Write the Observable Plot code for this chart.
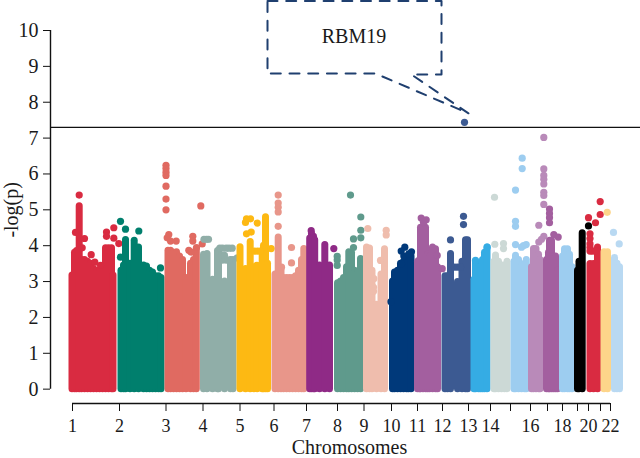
<!DOCTYPE html>
<html>
<head>
<meta charset="utf-8">
<style>
html,body{margin:0;padding:0;background:#fff}
svg{display:block;background:#fff}
</style>
<script src="https://cdn.jsdelivr.net/npm/d3@7"></script>
<script src="https://cdn.jsdelivr.net/npm/@observablehq/plot@0.6"></script>
</head>
<body>
<div id="chart"></div>
<script>
// x is genome position in bins of about 5.2 Mb; y is -log(p).
const chromosomes = ["1","2","3","4","5","6","7","8","9","10","11","12","13","14","15","16","17","18","19","20","21","22"];
const colours = ["#d92b41","#007f6d","#e06a61","#90aea8","#fdb913","#e8968a","#8f2a86","#5f9a8c","#efbdad","#00397a","#a35f9f","#3c5a92","#35ace4","#ccd9d6","#9dcdf0","#b98ab9","#a35f9f","#9dcdf0","#000000","#d92b41","#fdd58a","#b9d9f2"];

// dense columns of SNPs: [position, highest value in the column]
const columns01 = [[3.5,3.17],[6,3.8],[8,3.85],[10.7,5.1],[13,3.6],[16,3.6],[19,3.55],[22,3.5],[25,3.35],[28,3.3],[31,3.3],[34,3.35],[37,3.93],[40,3.93],[43,3.93],[44.5,3.17]];
const columns02 = [[52.5,3.3],[55,3.45],[57,4.16],[61.5,3.5],[65.7,4.14],[70,3.95],[75,3.45],[78,3.42],[81,3.3],[84,3.25],[87,3.15],[90,3.15],[92.5,3.1]];
const columns03 = [[99.5,3.86],[102,3.86],[105,3.8],[108,3.82],[111,3.7],[114,3.6],[117.5,3.1],[122,3.5],[125,3.6],[127.8,3.9]];
const columns04 = [[135,3.75],[138.5,3.77],[144,3.05],[149,3.85],[150,3.85],[156,3.0],[162,3.6],[164.5,3.6]];
const columns05 = [[171.5,3.96],[177,3.35],[181.7,4.1],[185.5,3.4],[188.5,3.44],[193.7,3.85],[195,4.0],[197,4.79],[199,3.5]];
const columns06 = [[206.5,3.2],[209.7,4.23],[212.5,3.3],[215,3.1],[218,3.1],[221,3.1],[224,3.1],[227,3.15],[230,3.3],[233,3.6],[235.3,3.91]];
const columns07 = [[241.2,4.2],[243,4.33],[245,4.25],[246.2,4.15],[251,3.45],[256.3,4.02],[261,3.45]];
const columns08 = [[269,2.95],[272,3.0],[275,3.1],[278,3.4],[280.3,3.82],[283,3.8],[286,3.3],[289,3.25],[292,3.63]];
const columns09 = [[298,3.95],[301,3.92],[303.5,3.3],[308,2.35],[312.5,3.2],[316,3.9]];
const columns10 = [[324,3.0],[326,3.25],[329,3.3],[332,3.5],[335,3.55],[338,3.6],[340,3.7],[342.5,3.7]];
const columns11 = [[349,3.55],[351,3.6],[352,4.5],[354.5,4.5],[357,4.5],[359,3.75],[361,3.7],[364,3.95],[367,3.9],[369,3.4]];
const columns12 = [[376.5,3.15],[379,3.15],[382,3.77],[389,2.99],[393.5,3.55],[397,4.15],[399,4.15]];
const columns13 = [[405.5,3.05],[407,3.55],[410,3.4],[412,3.3],[414,3.6],[416,3.8],[418.5,3.95]];
const columns14 = [[425.5,3.55],[427,3.73],[430,3.55],[433,3.45],[436,3.45],[438.5,3.55]];
const columns15 = [[445.5,3.55],[447,3.72],[450,3.6],[453,3.45],[456,3.5],[457.8,3.6]];
const columns16 = [[463,3.4],[465,3.91],[467.5,3.91],[470,3.75],[471.5,3.6]];
const columns17 = [[478,3.6],[480,3.8],[481,4.14],[483,4.14],[485,3.7],[487,3.7],[489,3.3]];
const columns18 = [[494,3.7],[496,3.9],[499,3.9],[501,3.75],[503.5,3.4]];
const columns19 = [[509,3.3],[510.5,3.55],[513.7,4.35]];
const columns20 = [[521.5,3.49],[525,3.49],[529,3.95]];
const columns21 = [[535.5,3.82],[539,3.82]];
const columns22 = [[546,3.66],[548.5,3.5],[551,3.4]];

// separate SNPs above the columns: [position, value]
const dots01 = [[10.7,5.41],[7,4.37],[16,4.2],[13.7,3.94],[22.7,3.75],[26.3,3.54],[32,3.45],[38,4.38],[38,4.26],[45.3,4.5],[45.3,4.21],[50.3,4.06]];
const dots02 = [[52,4.68],[57,4.46],[70.3,4.41],[52,3.68],[92,3.38]];
const dots03 = [[97.5,6.24],[97.5,6.15],[97.5,6.05],[97.5,5.96],[97.5,5.66],[97.5,5.3],[97.5,5.0],[132.3,5.11],[100.3,4.31],[98.7,4.22],[102,4.13],[107.7,4.13],[124.3,4.26],[124.3,4.13],[120.3,3.87],[122.7,3.82],[133.7,4.05],[128,3.95]];
const dots04 = [[135.5,4.18],[138,4.18],[140,4.18],[151.3,3.93],[154,3.93],[157.7,3.93],[160.5,3.93],[163.7,3.93],[154,3.6],[157.7,3.6],[160.5,3.6],[153,3.73],[156,3.73],[168.7,3.66]];
const dots05 = [[178,4.75],[182,4.75],[177,4.65],[188.7,4.63],[178,4.33],[182.7,4.38],[186,3.85],[189,3.85],[192,3.85],[202.7,3.92]];
const dots06 = [[209.7,5.41],[209.7,5.19],[209.7,5.07],[209.7,4.94],[209.7,4.54],[213,3.4],[223,3.95],[223,3.52]];
const dots07 = [[242.7,4.42],[265.3,3.92]];
const dots08 = [[268.7,3.7],[268.7,3.6],[268.7,3.45],[282,5.41],[292.3,4.8],[292.3,4.43],[292.3,4.22],[285,4.19],[285,3.95]];
const dots09 = [[299.3,4.48],[317.7,4.43],[317.7,4.3],[305.3,3.08],[305,2.84],[305,2.73],[312,3.59]];
const dots10 = [[336.3,3.96],[332.7,3.85],[343,3.83],[335.3,3.71],[340.3,3.77],[333,3.5],[322.5,2.44]];
const dots11 = [[352.7,4.77],[357.7,4.72],[355,4.65],[368.7,3.73],[373.7,3.36]];
const dots12 = [[396,7.44],[395,4.82],[395,4.59],[382,4.16],[386,3.4],[389,3.4],[392,3.4]];
const dots13 = [[407,3.59],[418.7,3.96]];
const dots14 = [[426,5.35],[426.3,4.04],[435,4.06],[435,3.92]];
const dots15 = [[453.7,6.44],[453.7,6.15],[447,5.55],[447,4.68],[447,4.54],[447,4.03],[453,3.96],[457.7,4.03],[455,4.0]];
const dots16 = [[475.3,7.02],[475.3,6.14],[475.3,5.96],[475.3,5.85],[475.3,5.72],[475.3,5.49],[475.3,5.4],[475.3,5.15],[470.3,4.57],[475.3,4.26],[470.3,4.1],[473,4.18]];
const dots17 = [[481,5.02],[481,4.9],[481,4.78],[481,4.64],[485.3,4.31],[489.7,4.24]];
const dots18 = [];
const dots19 = [[520,4.55]];
const dots20 = [[531.7,5.23],[531.7,4.87],[520,4.78],[527,4.64],[521.5,4.33],[521.5,4.2],[521.5,4.05],[521.5,3.95],[521.5,3.85],[524,3.85],[527,3.85]];
const dots21 = [[538.7,4.93]];
const dots22 = [[545,4.37],[550.7,4.05]];

const columnLists = [columns01,columns02,columns03,columns04,columns05,columns06,columns07,columns08,columns09,columns10,columns11,columns12,columns13,columns14,columns15,columns16,columns17,columns18,columns19,columns20,columns21,columns22];
const dotLists = [dots01,dots02,dots03,dots04,dots05,dots06,dots07,dots08,dots09,dots10,dots11,dots12,dots13,dots14,dots15,dots16,dots17,dots18,dots19,dots20,dots21,dots22];

const tickPositions = [4,51,97.5,134.5,171.5,205.5,238,269,295.5,323,349,374,400,422,442,462,479,494,509,520,532,542];
const tickLabels = ["1","2","3","4","5","6","7","8","9","10","11","12","13","14","","16","","18","","20","","22"];
const yTicks = [0,1,2,3,4,5,6,7,8,9,10];
const threshold = 7.3;

const calloutX = [199,373,373,343,400,307,199,199];
const calloutY = [10.82,10.82,8.77,8.77,7.69,8.8,8.8,10.82];

const serif = "'Liberation Serif', serif";
const ink = "#1a1a1a";
const order = [...chromosomes.keys()].filter(i => i !== 18).concat(18);

const chart = Plot.plot({
  width: 640, height: 458,
  marginLeft: 50, marginRight: 0, marginTop: 30, marginBottom: 55,
  style: {fontFamily: serif, background: "#fff", color: ink},
  x: {domain: [-18, 572]},
  y: {domain: [-0.4, 10]},
  marks: [
    ...order.flatMap(i => [
      Plot.ruleX(columnLists[i], {x: d => d[0], y1: 0, y2: d => d[1], stroke: colours[i], strokeWidth: 7, strokeLinecap: "round"}),
      Plot.dot(dotLists[i], {x: d => d[0], y: d => d[1], r: 3.6, fill: colours[i]})
    ]),
    Plot.ruleY([threshold], {stroke: "#111", strokeWidth: 1.4}),
    Plot.ruleX([-18], {y1: 0, y2: 10, stroke: "#111", strokeWidth: 1.4}),
    Plot.ruleY([-0.4], {x1: tickPositions[0], x2: tickPositions[tickPositions.length - 1], stroke: "#111", strokeWidth: 1.4}),
    Plot.axisY({ticks: yTicks, tickSize: 7, tickPadding: 5, fontSize: 20, label: null, tickFormat: d => String(d), stroke: "#111"}),
    Plot.axisX({ticks: tickPositions, tickSize: 8, tickPadding: 8, fontSize: 18, label: null, tickFormat: d => tickLabels[tickPositions.indexOf(d)], stroke: "#111"}),
    Plot.text(["Chromosomes"], {x: 281, y: -1.62, text: d => d, fontSize: 20, fill: ink}),
    Plot.text(["-log(p)"], {x: -57, y: 5.0, text: d => d, fontSize: 20, rotate: -90, fill: ink}),
    Plot.line(calloutX.map((x, i) => [x, calloutY[i]]), {x: d => d[0], y: d => d[1], stroke: "#1f3f6f", strokeWidth: 2, strokeDasharray: "10,8.7"}),
    Plot.text(["RBM19"], {x: 285.5, y: 9.83, text: d => d, fontSize: 20, fill: ink})
  ]
});
document.getElementById("chart").append(chart);
</script>
</body>
</html>
